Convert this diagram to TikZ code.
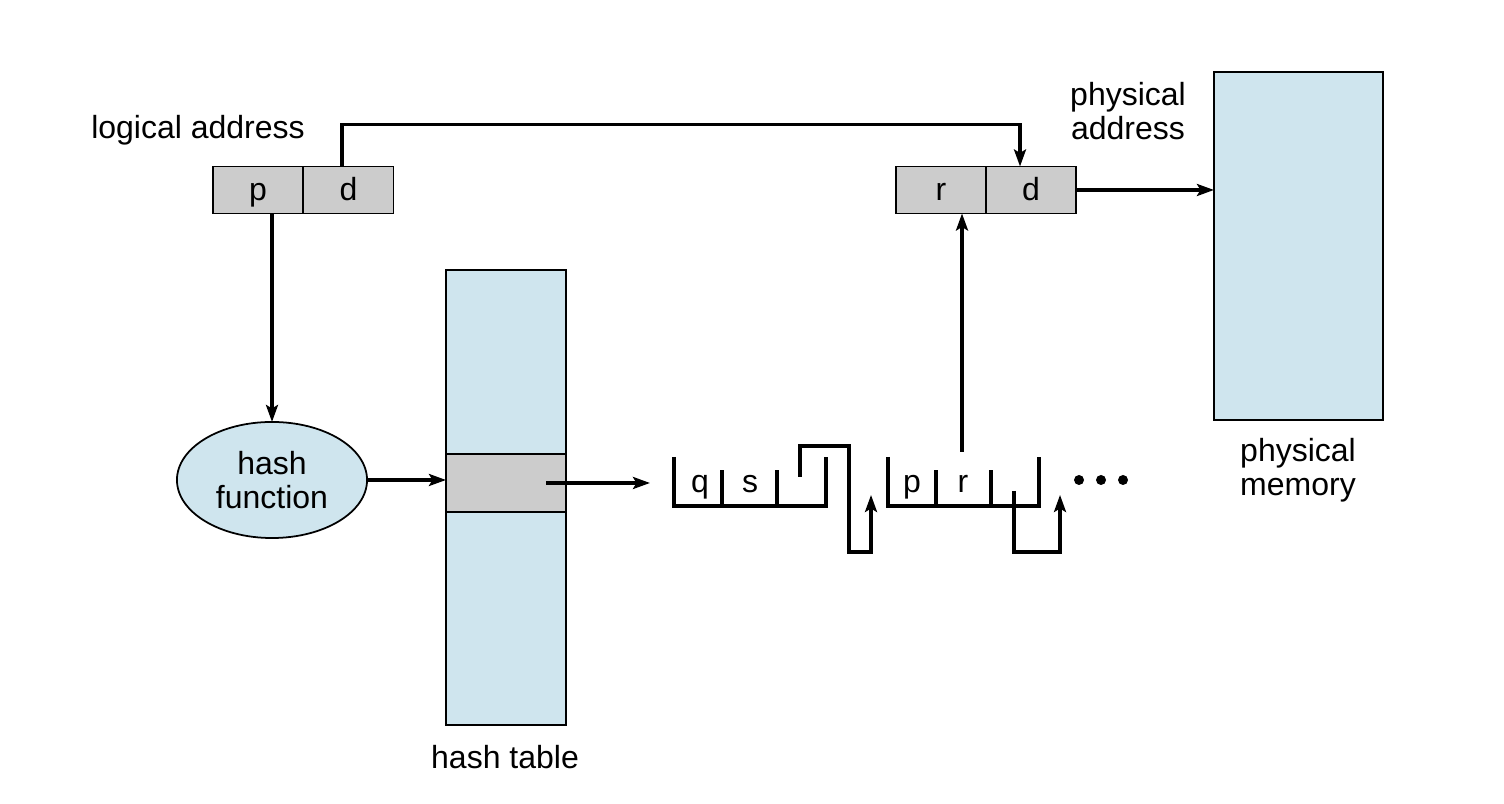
\documentclass[tikz,border=0pt]{standalone}
\usepackage{fontspec}
\setmainfont{Liberation Sans}
\usetikzlibrary{arrows.meta,shapes.geometric}
\definecolor{hellblau}{RGB}{207,229,238}
\definecolor{hellgrau}{RGB}{204,204,204}
\tikzset{
	>={Stealth[length=1.7mm,width=1.2mm,inset=0.35mm]},
	linie/.style={line width=0.9pt},
	feld/.style={draw,fill=hellgrau,line width=0.5pt,minimum width=0.9cm,minimum height=0.47cm,inner sep=0pt,outer sep=0pt,text height=6.5pt,text depth=0.8pt},
	speicher/.style={draw,fill=hellblau,line width=0.5pt,inner sep=0pt,outer sep=0pt},
	beschriftung/.style={align=center,inner sep=0pt},
	buchstabe/.style={anchor=base,inner sep=0pt}
}
\begin{document}
\begin{tikzpicture}[x=0.01cm,y=0.01cm,font=\fontsize{9.1}{9.6}\selectfont]
	\useasboundingbox (0,0) rectangle (1504,804);
	% Adressen
	\node[feld] (lp) at (258,614) {p};
	\node[feld] (ld) at (348.5,614) {d};
	\node[feld] (rr) at (941,614) {r};
	\node[feld] (rd) at (1031,614) {d};
	\node[beschriftung] (logadr) at (198,674) {logical address};
	\node[beschriftung] (physadr) at (1128,693) {physical\\address};
	% Speicher
	\node[speicher,minimum width=1.69cm,minimum height=3.48cm] (pm) at (1298.5,558) {};
	\node[beschriftung] (pmtext) at (1298,334) {physical\\memory};
	\node[speicher,minimum width=1.2cm,minimum height=4.55cm] (ht) at (506,306.5) {};
	\node[feld,minimum width=1.2cm,minimum height=0.58cm] (eintrag) at (506,321) {};
	\node[beschriftung] (httext) at (505,47) {hash table};
	\node[speicher,ellipse,minimum width=1.9cm,minimum height=1.16cm,align=center] (hf) at (272,324) {hash\\function};
	% Kette
	\draw[linie] (674,347) -- (674,298) -- (826,298) -- (826,347);
	\draw[linie] (722,298) -- (722,334);
	\draw[linie] (777,298) -- (777,334);
	\draw[linie] (888,347) -- (888,298) -- (1039,298) -- (1039,347);
	\draw[linie] (936,298) -- (936,334);
	\draw[linie] (991,298) -- (991,334);
	\node[buchstabe] (q) at (700,311) {q};
	\node[buchstabe] (s) at (750,311) {s};
	\node[buchstabe] (kp) at (912,311) {p};
	\node[buchstabe] (kr) at (963,311) {r};
	\draw[linie,->] (800,327) -- (800,358) -- (849,358) -- (849,252) -- (871,252) -- (871,309);
	\draw[linie,->] (1014,313) -- (1014,252) -- (1060,252) -- (1060,309);
	\foreach \x in {1079,1101,1123} {
		\fill (\x,324) circle (0.05cm);
	}
	% Pfeile
	\coordinate (kette) at (650,321);
	\coordinate (rfuss) at (962,352);
	\draw[linie,->] (hf.north |- lp.south) -- (hf.north);
	\draw[linie,->] ([xshift=-0.065cm]ld.north) -- ++(0,42) -| ([xshift=-0.11cm]rd.north);
	\draw[linie,->] (hf.east) -- (ht.west |- hf.east);
	\draw[linie,->] ([xshift=0.4cm]eintrag.center) -- (kette);
	\draw[linie,->] (rfuss) -- (rfuss |- rr.south);
	\draw[linie,->] (rd.east) -- (rd.east -| pm.west);
\end{tikzpicture}
\end{document}
